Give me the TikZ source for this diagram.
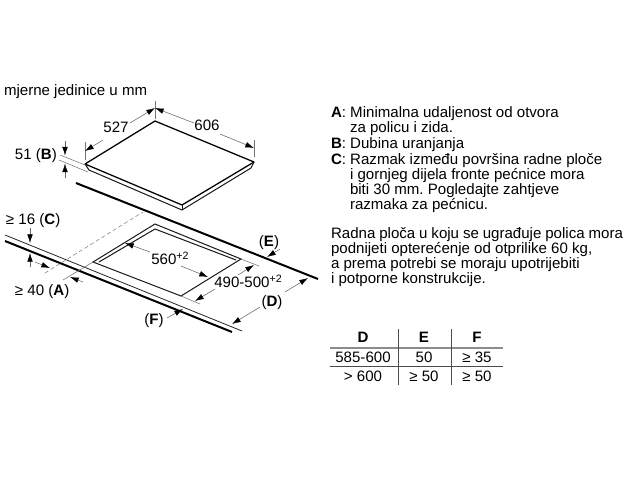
\documentclass[tikz,border=0pt]{standalone}
\usepackage{fontspec}
\setmainfont{Liberation Sans}
\usetikzlibrary{arrows.meta}
\newcommand{\plustwo}{\raisebox{4pt}{\fontsize{8pt}{8pt}\selectfont +2}}
\tikzset{
  txt/.style={inner sep=0pt,outer sep=0pt,font=\fontsize{11.3pt}{13pt}\selectfont\frenchspacing},
  para/.style={txt,anchor=base west},
  mid/.style={txt,anchor=base},
  edge/.style={line width=0.75pt,black!90},
  topedge/.style={line width=0.95pt,black},
  heavy/.style={line width=1.5pt,black},
  thinl/.style={line width=0.4pt,black!55},
  dim/.style={line width=0.4pt,black!60,-{Latex[length=6.5pt,width=4.2pt,black]}},
  dashl/.style={line width=0.4pt,black!50,dash pattern=on 3pt off 2pt},
  rulethin/.style={line width=0.6pt,black!70},
  rulethick/.style={line width=1.5pt,black!45}
}
\begin{document}
\begin{tikzpicture}[x=0.75pt,y=-0.75pt]
\useasboundingbox (0,0) rectangle (640,480);
\fill[white] (0,0) rectangle (640,480);
\node[para] (units) at (4,95) {mjerne jedinice u mm};
% hob
\draw[topedge,line join=round] (85,164) -- (155,121) -- (254,162) -- (182,205) -- cycle;
\draw[edge] (85,164) -- (89,170) -- (182,210) -- (251,168) -- (254,162);
\draw[edge] (182,205) -- (182,210);
% hob dims
\draw[thinl] (85,142) -- (85,160);
\draw[thinl] (155,101) -- (155,119);
\draw[thinl] (254,140) -- (254,157);
\node[mid] (d527) at (116,132.5) {527};
\node[mid] (d606) at (207,130) {606};
\draw[dim] (103,140) -- (85,151);
\draw[dim] (130,123) -- (155,108);
\draw[dim] (194,123) -- (155,108);
\draw[dim] (220,134) -- (254,148);
\node[para] (b51) at (15,159.5) {51 (\textbf{B})};
\draw[thinl] (60,155) -- (85,165);
\draw[thinl] (59,160) -- (88,172);
\draw[dim] (65,141) -- (65,155.5);
\draw[dim] (65,178) -- (65,163.5);
% counter
\draw[heavy] (76,183) -- (318,279);
\draw[line width=0.6pt,black!85] (5,235) -- (242,331);
\draw[heavy] (5,241) -- (232,332);
% cutout
\draw[edge,line join=miter] (93,262) -- (155,224) -- (241,259) -- (181,296) -- cycle;
\draw[edge] (99,262) -- (155,229) -- (236,260);
\draw[dashl] (45,273) -- (143,212);
\draw[thinl] (93,262) -- (63,280);
\draw[thinl] (241,259) -- (259,266);
\draw[thinl] (181,296) -- (200,304);
% C
\node[para] (c16) at (6,224.5) {≥ 16 (\textbf{C})};
\draw[dim] (30,228) -- (30,243);
\draw[dim] (30,267) -- (30,253);
% A
\node[para] (a40) at (15,295) {≥ 40 (\textbf{A})};
\draw[dim] (35,262) -- (50,268);
\draw[dim] (83,282) -- (70,277);
% 560
\node[mid] (d560) at (170,264.5) {560\plustwo};
\draw[dim] (150,252) -- (125,243);
\draw[dim] (181,266) -- (208,277);
% 490
\node[mid] (d490) at (248,287.5) {490-500\plustwo};
\draw[dim] (238,275) -- (254,265);
\draw[dim] (215,289) -- (195,301);
% D
\node[mid] (dD) at (272,306) {(\textbf{D})};
\draw[dim] (285,292) -- (308,278);
\draw[dim] (260,307) -- (232,324);
% E
\node[mid] (dE) at (269,246) {(\textbf{E})};
\draw[dim] (280,249) -- (267,257);
% F
\node[mid] (dF) at (154,324) {(\textbf{F})};
\draw[dim] (167,318) -- (183,309);
% text
\node[para] (t1) at (331,117.5) {\textbf{A}: Minimalna udaljenost od otvora};
\node[para] (t2) at (350,132.7) {za policu i zida.};
\node[para] (t3) at (331,148.3) {\textbf{B}: Dubina uranjanja};
\node[para] (t4) at (331,164) {\textbf{C}: Razmak između površina radne ploče};
\node[para] (t5) at (350,179.3) {i gornjeg dijela fronte pećnice mora};
\node[para] (t6) at (350,194.3) {biti 30 mm. Pogledajte zahtjeve};
\node[para] (t7) at (350,209) {razmaka za pećnicu.};
\node[para] (t8) at (331,238) {\spaceskip=2.93pt Radna ploča u koju se ugrađuje polica mora};
\node[para] (t9) at (331,253.3) {podnijeti opterećenje od otprilike 60 kg,};
\node[para] (t10) at (331,268.3) {a prema potrebi se moraju upotrijebiti};
\node[para] (t11) at (331,283.5) {i potporne konstrukcije.};
% table
\draw[rulethick] (330,348) -- (503,348);
\draw[rulethin] (330,366) -- (503,366);
\draw[rulethin] (398,329) -- (398,385);
\draw[rulethin] (451,329) -- (451,385);
\node[mid] (hD) at (363,342.5) {\textbf{D}};
\node[mid] (hE) at (424,342.5) {\textbf{E}};
\node[mid] (hF) at (477,342.5) {\textbf{F}};
\node[mid] (r1a) at (363,362.5) {585-600};
\node[mid] (r1b) at (424,362.5) {50};
\node[mid] (r1c) at (477,362.5) {≥ 35};
\node[mid] (r2a) at (363,381) {> 600};
\node[mid] (r2b) at (424,381) {≥ 50};
\node[mid] (r2c) at (477,381) {≥ 50};
\end{tikzpicture}
\end{document}
